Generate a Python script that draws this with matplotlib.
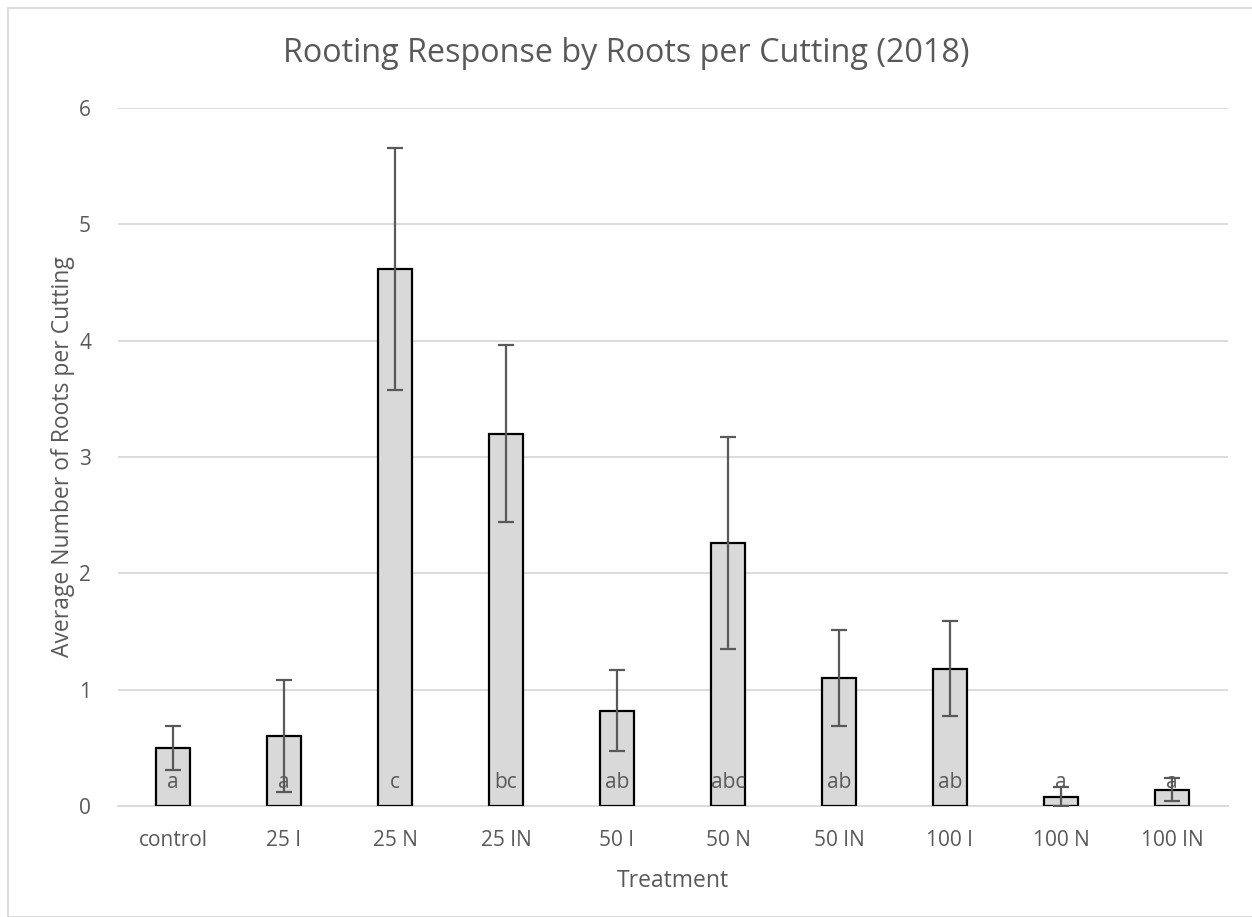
import matplotlib
matplotlib.use("Agg")
import matplotlib.pyplot as plt
from matplotlib.patches import Rectangle

# Treatment means, standard errors and significance groups
treatments = ["control", "25 I", "25 N", "25 IN", "50 I", "50 N", "50 IN", "100 I", "100 N", "100 IN"]
mean_roots = [0.50, 0.60, 4.62, 3.20, 0.82, 2.26, 1.10, 1.18, 0.08, 0.14]
std_error = [0.19, 0.48, 1.04, 0.76, 0.35, 0.91, 0.41, 0.41, 0.08, 0.10]
groups = ["a", "a", "c", "bc", "ab", "abc", "ab", "ab", "a", "a"]
y_ticks = [0, 1, 2, 3, 4, 5, 6]

plt.rcParams["font.family"] = ["Open Sans", "DejaVu Sans"]
text_color = "#595959"
grid_color = "#D9D9D9"

fig = plt.figure(figsize=(12.52, 9.17), dpi=100)
ax = fig.add_axes([117.5 / 1252, (917 - 806) / 917, 1110 / 1252, 698 / 917])

x = list(range(len(treatments)))
ax.bar(x, mean_roots, width=0.315, color="#D9D9D9", edgecolor="black", linewidth=1.6, zorder=3)
ax.errorbar(x, mean_roots, yerr=std_error, fmt="none", ecolor=text_color,
            elinewidth=1.6, capsize=5.5, capthick=1.6, zorder=4)

for xi, g in zip(x, groups):
    ax.text(xi, 0.2, g, ha="center", va="center", fontsize=15, color=text_color, zorder=5)

ax.set_xlim(-0.5, len(treatments) - 0.5)
ax.set_ylim(0, 6)
ax.set_yticks(y_ticks)
ax.set_xticks(x)
ax.set_xticklabels(treatments)
ax.tick_params(axis="both", length=0, labelsize=15, labelcolor=text_color)
ax.tick_params(axis="x", pad=17)
ax.tick_params(axis="y", pad=19)
ax.grid(axis="y", color=grid_color, linewidth=1.3, zorder=0)
ax.set_axisbelow(True)
for side in ["top", "right", "left"]:
    ax.spines[side].set_visible(False)
ax.spines["bottom"].set_color(grid_color)
ax.spines["bottom"].set_linewidth(1.3)

ax.set_xlabel("Treatment", fontsize=16.5, color=text_color, labelpad=13)
ax.set_ylabel("Average Number of Roots per Cutting", fontsize=16.5, color=text_color, labelpad=3)
fig.text(0.5, (917 - 54) / 917, "Rooting Response by Roots per Cutting (2018)",
         ha="center", va="center", fontsize=23.3, color=text_color)

# Chart area border
fig.patches.append(Rectangle((8 / 1252, 0), (1252 - 8) / 1252 + 0.01, (917 - 8) / 917,
                             transform=fig.transFigure, fill=False,
                             edgecolor=grid_color, linewidth=1.3))

fig.savefig("out.png", dpi=100)
